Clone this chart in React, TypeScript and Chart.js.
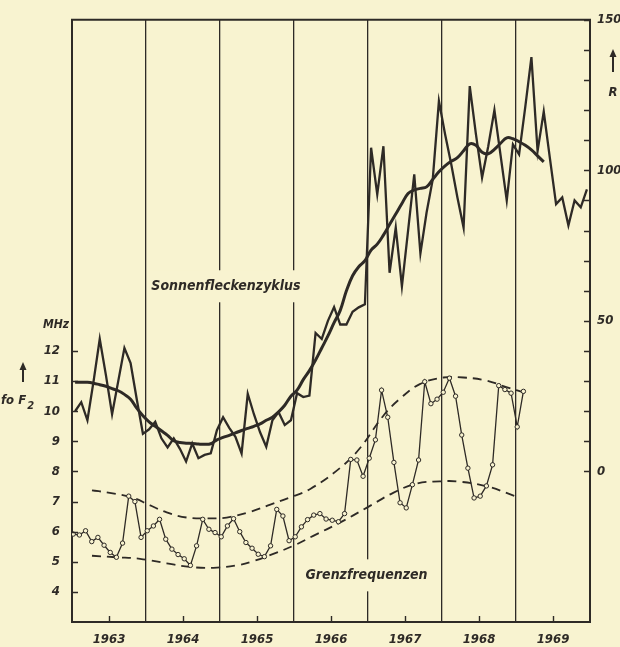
import React, { useEffect, useRef } from 'react';
import { Chart, registerables } from 'chart.js';

Chart.register(...registerables);

// ---------- data ----------
const START_YEAR = 1963;
const END_YEAR = 1970;
const yearLabels = ['1963', '1964', '1965', '1966', '1967', '1968', '1969'];
const mhzTicks = [4, 5, 6, 7, 8, 9, 10, 11, 12];
const rTickLabels = [0, 50, 100, 150];

// monthly sunspot number R, Jan 1963 .. Dec 1969
const sunspotMonthly = [
  20, 23, 17, 30, 44, 32, 19, 30, 41, 36, 24, 12.5,
  14, 16.5, 11, 8, 11, 7.5, 3.3, 9.3, 4.4, 5.5, 6, 13.7,
  18, 14.5, 11.5, 6, 25.8, 19, 13, 8.2, 17, 19.7, 15.4, 17,
  26, 24.7, 25.2, 46, 44, 50, 54.6, 48.8, 48.8, 53, 54.5, 55.5,
  107.5, 92, 108, 66, 81, 61.5, 80, 98.7, 72.4, 86, 97, 123,
  112, 102, 91, 81, 128, 112, 97.6, 108, 120, 105, 90, 108.6,
  105.3, 121, 137.6, 106.4, 119.5, 104, 88.8, 91, 81.7, 90, 87.7, 93.7,
];

// smoothed sunspot number, Jan 1963 .. May 1969
const sunspotSmoothed = [
  29.6, 29.6, 29.6, 29.3, 28.8, 28.3, 27.5, 26.8, 25.6, 24, 21, 18.5,
  16.5, 15, 13.5, 12, 10.2, 9.6, 9.4, 9.3, 9.1, 9, 9.2, 10.5,
  11.3, 12, 12.8, 13.6, 14.3, 15, 15.8, 17, 18, 19.8, 22, 25,
  27, 30.5, 33.5, 37, 41, 45, 49.4, 53.5, 60, 65, 68, 70,
  73.5, 75.5, 78.5, 82, 85.5, 89, 92.3, 93.5, 94, 94.5, 97, 99.5,
  101.5, 103, 104.2, 106.5, 108.8, 108.3, 106, 105.5, 107, 109, 110.8, 110.5,
  109.5, 108.3, 106.8, 104.8, 102.8,
];

// monthly critical frequency foF2 (MHz), Jan 1963 .. Feb 1969
const foF2Monthly = [
  5.92, 5.89, 6.03, 5.67, 5.81, 5.55, 5.31, 5.15, 5.62, 7.18, 7.0, 5.81,
  6.03, 6.19, 6.41, 5.75, 5.42, 5.24, 5.1, 4.88, 5.53, 6.41, 6.08, 5.97,
  5.83, 6.19, 6.43, 6.0, 5.64, 5.45, 5.25, 5.17, 5.53, 6.74, 6.52, 5.7,
  5.83, 6.16, 6.4, 6.55, 6.6, 6.42, 6.38, 6.33, 6.6, 8.4, 8.38, 7.84,
  8.44, 9.05, 10.7, 9.8, 8.3, 6.96, 6.79, 7.56, 8.38, 10.98, 10.25, 10.4,
  10.63, 11.1, 10.5, 9.21, 8.11, 7.12, 7.18, 7.52, 8.22, 10.85, 10.72, 10.6,
  9.48, 10.66,
];

// envelope curves (MHz)
const upperEnvYears = [1963.27, 1963.51, 1963.83, 1964.05, 1964.28, 1964.55, 1964.82, 1965.09, 1965.41, 1965.68, 1965.95, 1966.22, 1966.62, 1966.89, 1967.21, 1967.43, 1967.7, 1968.02, 1968.29, 1968.6, 1968.87, 1969.14];
const upperEnvMHz = [7.37, 7.29, 7.12, 6.88, 6.64, 6.47, 6.44, 6.47, 6.66, 6.9, 7.14, 7.42, 8.11, 8.77, 9.86, 10.41, 10.9, 11.12, 11.12, 11.02, 10.8, 10.6];
const lowerEnvYears = [1963.27, 1963.6, 1963.92, 1964.28, 1964.59, 1964.91, 1965.27, 1965.45, 1965.72, 1965.99, 1966.26, 1966.62, 1966.98, 1967.34, 1967.66, 1967.97, 1968.2, 1968.6, 1968.99];
const lowerEnvMHz = [5.2, 5.15, 5.1, 4.95, 4.83, 4.8, 4.9, 5.02, 5.26, 5.53, 5.86, 6.3, 6.79, 7.29, 7.6, 7.67, 7.67, 7.51, 7.18];

// ---------- style ----------
const BG = '#f8f3d0';
const INK = '#2e2a26';
const FAMILY = '"DejaVu Sans Condensed", "Liberation Sans Narrow", "DejaVu Sans", sans-serif';
const tickFont = { family: FAMILY, size: 13, style: 'italic' as const, weight: 'bold' as const };

const monthPoints = (values: number[], offset: number) =>
  values.map((v, i) => ({ x: START_YEAR + (i + offset) / 12, y: v }));
const pairPoints = (xs: number[], ys: number[]) => xs.map((x, i) => ({ x, y: ys[i] }));

const inlineLabels = [
  { text: 'Sonnenfleckenzyklus', x: 1965.08, y: 61.5, axis: 'yR' },
  { text: 'Grenzfrequenzen', x: 1966.98, y: 4.55, axis: 'y' },
];

function arrowUp(ctx: CanvasRenderingContext2D, x: number, yTop: number, yBottom: number) {
  ctx.beginPath();
  ctx.moveTo(x, yBottom);
  ctx.lineTo(x, yTop + 5);
  ctx.lineWidth = 2;
  ctx.stroke();
  ctx.beginPath();
  ctx.moveTo(x, yTop);
  ctx.lineTo(x - 3.5, yTop + 8);
  ctx.lineTo(x + 3.5, yTop + 8);
  ctx.closePath();
  ctx.fill();
}

const decorPlugin = {
  id: 'decor',
  beforeDraw(chart: any) {
    const { ctx, width, height } = chart;
    ctx.save();
    ctx.fillStyle = BG;
    ctx.fillRect(0, 0, width, height);
    ctx.restore();
  },
  beforeDatasetsDraw(chart: any) {
    const { ctx, scales } = chart;
    ctx.save();
    ctx.font = `italic bold 14px ${FAMILY}`;
    ctx.textAlign = 'center';
    ctx.textBaseline = 'middle';
    for (const lab of inlineLabels) {
      const px = scales.x.getPixelForValue(lab.x);
      const py = scales[lab.axis].getPixelForValue(lab.y);
      const w = ctx.measureText(lab.text).width + 6;
      ctx.fillStyle = BG;
      ctx.fillRect(px - w / 2, py - 16, w, 32);
      ctx.fillStyle = INK;
      ctx.fillText(lab.text, px, py);
    }
    ctx.restore();
  },
  afterDraw(chart: any) {
    const { ctx, chartArea, scales } = chart;
    const { left, right, top, bottom } = chartArea;
    ctx.save();
    ctx.strokeStyle = INK;
    ctx.fillStyle = INK;
    // top frame line
    ctx.lineWidth = 2;
    ctx.beginPath();
    ctx.moveTo(left - 1, top);
    ctx.lineTo(right + 1, top);
    ctx.stroke();
    // inward tick marks
    ctx.lineWidth = 1.4;
    ctx.beginPath();
    for (const v of mhzTicks) {
      const py = Math.round(scales.y.getPixelForValue(v)) + 0.5;
      ctx.moveTo(left, py);
      ctx.lineTo(left + 6, py);
    }
    for (let v = 0; v <= 150; v += 10) {
      const py = Math.round(scales.yR.getPixelForValue(v)) + 0.5;
      ctx.moveTo(right, py);
      ctx.lineTo(right - 6, py);
    }
    yearLabels.forEach((_, i) => {
      const px = Math.round(scales.x.getPixelForValue(START_YEAR + i + 0.5)) + 0.5;
      ctx.moveTo(px, bottom);
      ctx.lineTo(px, bottom - 6);
    });
    ctx.stroke();

    // axis titles
    ctx.font = `italic bold 12px ${FAMILY}`;
    ctx.textAlign = 'right';
    ctx.textBaseline = 'middle';
    ctx.fillText('MHz', left - 3, 325);

    arrowUp(ctx, 23, 362, 382);
    ctx.font = `italic bold 13px ${FAMILY}`;
    ctx.textAlign = 'left';
    ctx.fillText('fo F', 1, 401);
    const wF = ctx.measureText('fo F').width;
    ctx.font = `italic bold 11px ${FAMILY}`;
    ctx.fillText('2', 1 + wF + 1, 406);

    arrowUp(ctx, 613, 49, 72);
    ctx.font = `italic bold 13px ${FAMILY}`;
    ctx.textAlign = 'center';
    ctx.fillText('R', 613, 93);
    ctx.restore();
  },
};

export default function App() {
  const canvasRef = useRef<HTMLCanvasElement | null>(null);

  useEffect(() => {
    const canvas = canvasRef.current;
    if (!canvas) return;
    const chart = new Chart(canvas, {
      type: 'line',
      data: {
        datasets: [
          {
            label: 'R monatlich',
            data: monthPoints(sunspotMonthly, 0.5),
            yAxisID: 'yR',
            borderColor: INK,
            borderWidth: 2.3,
            pointRadius: 0,
            tension: 0,
            borderJoinStyle: 'miter',
          },
          {
            label: 'R geglättet',
            data: monthPoints(sunspotSmoothed, 0.5),
            yAxisID: 'yR',
            borderColor: INK,
            borderWidth: 3,
            pointRadius: 0,
            tension: 0.4,
          },
          {
            label: 'foF2',
            data: monthPoints(foF2Monthly, 0.2),
            yAxisID: 'y',
            borderColor: INK,
            borderWidth: 1.3,
            pointRadius: 2.2,
            pointBorderWidth: 1,
            pointBorderColor: INK,
            pointBackgroundColor: BG,
            tension: 0,
          },
          {
            label: 'obere Hüllkurve',
            data: pairPoints(upperEnvYears, upperEnvMHz),
            yAxisID: 'y',
            borderColor: INK,
            borderWidth: 1.8,
            borderDash: [9, 6],
            pointRadius: 0,
            tension: 0.4,
          },
          {
            label: 'untere Hüllkurve',
            data: pairPoints(lowerEnvYears, lowerEnvMHz),
            yAxisID: 'y',
            borderColor: INK,
            borderWidth: 1.8,
            borderDash: [9, 6],
            pointRadius: 0,
            tension: 0.4,
          },
        ],
      },
      options: {
        responsive: false,
        animation: false,
        layout: { padding: { top: 14, left: 0, right: 0, bottom: 0 } },
        plugins: { legend: { display: false }, tooltip: { enabled: false } },
        scales: {
          x: {
            type: 'linear',
            position: 'bottom',
            min: START_YEAR,
            max: END_YEAR,
            afterBuildTicks: (s: any) => {
              const t: any[] = [];
              for (let v = START_YEAR; v <= END_YEAR + 1e-9; v += 0.5) t.push({ value: v });
              s.ticks = t;
            },
            afterFit: (s: any) => { s.height = 25; },
            ticks: {
              autoSkip: false,
              maxRotation: 0,
              padding: 10,
              color: INK,
              font: tickFont,
              callback: (value: any) => {
                const v = Number(value);
                if (Math.abs((v % 1) - 0.5) < 1e-6) return yearLabels[Math.floor(v) - START_YEAR] ?? '';
                return '';
              },
            },
            grid: {
              drawTicks: false,
              lineWidth: 1.3,
              color: (c: any) => {
                const v = c.tick ? c.tick.value : null;
                return v != null && Math.abs(v - Math.round(v)) < 1e-6 && v > START_YEAR && v < END_YEAR
                  ? INK
                  : 'rgba(0,0,0,0)';
              },
            },
            border: { display: true, color: INK, width: 2 },
          },
          y: {
            type: 'linear',
            position: 'left',
            min: 3,
            max: 23,
            afterBuildTicks: (s: any) => { s.ticks = mhzTicks.map((v) => ({ value: v })); },
            afterFit: (s: any) => { s.width = 72; },
            ticks: { padding: 12, color: INK, font: tickFont, callback: (v: any) => String(v) },
            grid: { drawOnChartArea: false, drawTicks: false },
            border: { display: true, color: INK, width: 2 },
          },
          yR: {
            type: 'linear',
            position: 'right',
            min: -50,
            max: 150,
            afterBuildTicks: (s: any) => { s.ticks = rTickLabels.map((v) => ({ value: v })); },
            afterFit: (s: any) => { s.width = 30; },
            ticks: { padding: 7, color: INK, font: tickFont, callback: (v: any) => String(v) },
            grid: { drawOnChartArea: false, drawTicks: false },
            border: { display: true, color: INK, width: 2 },
          },
        },
      },
      plugins: [decorPlugin],
    } as any);
    return () => chart.destroy();
  }, []);

  return (
    <div style={{ position: 'fixed', left: 0, top: 0, width: 620, height: 647, background: BG }}>
      <canvas ref={canvasRef} width={620} height={647} style={{ display: 'block' }} />
    </div>
  );
}
